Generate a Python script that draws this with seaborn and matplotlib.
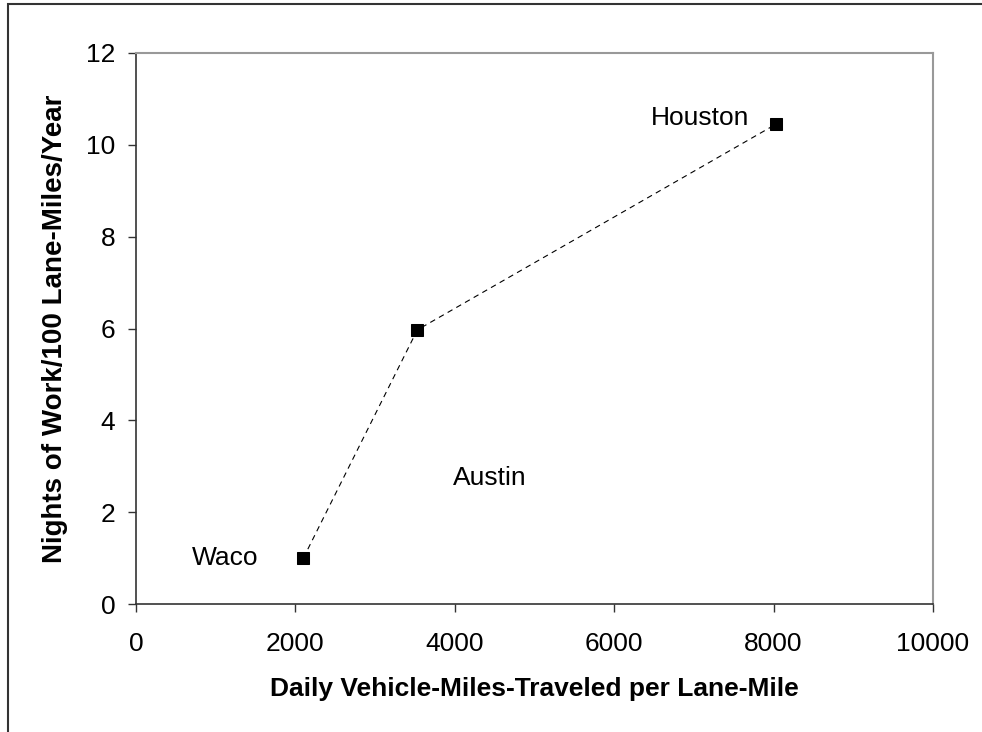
import numpy as np
import pandas as pd
import seaborn as sns
import matplotlib.pyplot as plt
from matplotlib.patches import Rectangle

cities = ["Waco", "Austin", "Houston"]
vmt = [2100, 3530, 8030]
nights = [1.0, 5.97, 10.45]
# label anchor positions (data coords)
label_x = [1117, 4442, 7077]
label_y = [1.0, 2.74, 10.59]

df = pd.DataFrame({"city": cities, "vmt": vmt, "nights": nights})

sns.set_style("white")
plt.rcParams["font.family"] = ["Liberation Sans", "DejaVu Sans"]
plt.rcParams["text.color"] = "black"
plt.rcParams["axes.labelcolor"] = "black"
plt.rcParams["xtick.color"] = "black"
plt.rcParams["ytick.color"] = "black"

fig = plt.figure(figsize=(9.82, 7.32), dpi=100)
ax = fig.add_axes([136 / 982, 1 - 604 / 732, (933 - 136) / 982, (604 - 53) / 732])

sns.lineplot(data=df, x="vmt", y="nights", ax=ax, color="black", linestyle=(0, (5, 4)),
             linewidth=0.8, marker="s", markersize=8, markeredgecolor="black",
             markerfacecolor="black")

for name, lx, ly in zip(cities, label_x, label_y):
    ax.text(lx, ly, name, ha="center", va="center", fontsize=19)

ax.set_xlim(0, 10000)
ax.set_ylim(0, 12)
ax.set_xticks(np.arange(0, 10001, 2000))
ax.set_yticks(np.arange(0, 13, 2))
ax.tick_params(axis="both", direction="out", length=6, width=1, labelsize=19,
               bottom=True, left=True, color="#333333", labelcolor="black")
ax.tick_params(axis="x", pad=14)
ax.tick_params(axis="y", pad=9)
ax.set_xlabel("Daily Vehicle-Miles-Traveled per Lane-Mile", fontsize=19,
              fontweight="bold", labelpad=15)
ax.set_ylabel("Nights of Work/100 Lane-Miles/Year", fontsize=20,
              fontweight="bold", labelpad=13)

for side in ["left", "bottom"]:
    ax.spines[side].set_color("#333333")
    ax.spines[side].set_linewidth(1.2)
for side in ["top", "right"]:
    ax.spines[side].set_color("#999999")
    ax.spines[side].set_linewidth(1.5)

# outer frame running off the right and bottom edges
fig.patches.append(Rectangle((8 / 982, -0.05), 1.1, 1.05 - 4.5 / 732, transform=fig.transFigure,
                             fill=False, edgecolor="#333333", linewidth=1.5))

fig.savefig("out.png", dpi=100)
